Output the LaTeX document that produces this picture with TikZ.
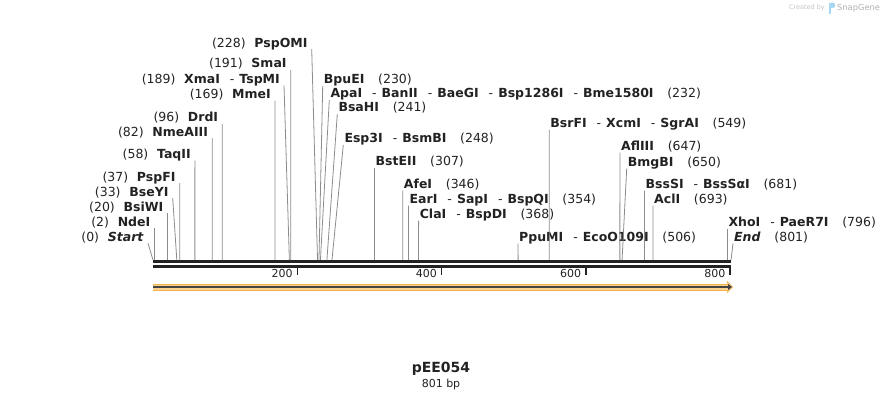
\documentclass[tikz,border=0pt]{standalone}
\usepackage{fontspec}
\setmainfont{DejaVu Sans}
\usetikzlibrary{arrows.meta}
\definecolor{seqdark}{HTML}{222222}
\definecolor{cutline}{HTML}{8C8C8C}
\definecolor{featfill}{HTML}{FBD38D}
\definecolor{featedge}{HTML}{F2B24C}
\definecolor{featline}{HTML}{444444}
\definecolor{credit}{HTML}{C4C4C4}
\definecolor{snapblue}{HTML}{A6D8F2}
\newcommand{\enzsep}{\hspace{0.8em}-\hspace{0.4em}}
\newcommand{\posgap}{\hspace{1.1em}}
\tikzset{
  site/.style={font=\fontsize{12.5}{14}\selectfont, text=seqdark, inner ysep=1pt, text height=9pt, text depth=1pt},
  leftsite/.style={site, anchor=base east, inner xsep=4pt},
  rightsite/.style={site, anchor=base west, inner xsep=1pt},
  cut/.style={cutline, line width=0.8pt},
  seq/.style={seqdark, line width=2.5pt},
}

\begin{document}
\begin{tikzpicture}[x=1pt,y=-1pt]
\useasboundingbox (0,0) rectangle (885,400);
\draw[seq] (153,261.5) -- (731,261.5);
\draw[seq] (153,266.5) -- (731,266.5);
\foreach \t in {200,400,600,800}
  \draw[seqdark, line width=1.6pt] ({153+\t*0.7216},267) -- ({153+\t*0.7216},275)
    node[pos=0.85, anchor=east, inner xsep=4pt, inner ysep=1pt, font=\fontsize{11}{13}\selectfont, text=seqdark] (tick\t) {\t};

\foreach \nm/\x/\y/\s/\txt in {
  Start/148/241/0/{(0)\hspace{0.7em}\textbf{\textit{Start}}},
  NdeI/154.5/226/2/{(2)\hspace{0.7em}\textbf{NdeI}},
  BsiWI/167.5/211/20/{(20)\hspace{0.7em}\textbf{BsiWI}},
  BseYI/172.7/196/33/{(33)\hspace{0.7em}\textbf{BseYI}},
  PspFI/179.7/181/37/{(37)\hspace{0.7em}\textbf{PspFI}},
  TaqII/194.9/158.3/58/{(58)\hspace{0.7em}\textbf{TaqII}},
  NmeAIII/212.2/136/82/{(82)\hspace{0.7em}\textbf{NmeAIII}},
  DrdI/222.3/121.6/96/{(96)\hspace{0.7em}\textbf{DrdI}},
  MmeI/275/98.3/169/{(169)\hspace{0.7em}\textbf{MmeI}},
  XmaI/284/83.3/189/{(189)\hspace{0.7em}\textbf{XmaI}\enzsep\textbf{TspMI}},
  SmaI/290.8/67.6/191/{(191)\hspace{0.7em}\textbf{SmaI}},
  PspOMI/311.7/47/228/{(228)\hspace{0.7em}\textbf{PspOMI}}}
{
  \coordinate (s\nm) at ({153+\s*0.7216},260);
  \node[leftsite] (\nm) at (\x,\y) {\txt};
  \draw[cut] (\nm.south east) -- (s\nm);
}

\foreach \nm/\x/\y/\s/\txt in {
  BpuEI/322.7/83.6/230/{\textbf{BpuEI}\posgap(230)},
  ApaI/329.3/97.8/232/{\textbf{ApaI}\enzsep\textbf{BanII}\enzsep\textbf{BaeGI}\enzsep\textbf{Bsp1286I}\enzsep\textbf{Bme1580I}\posgap(232)},
  BsaHI/337.3/111.8/241/{\textbf{BsaHI}\posgap(241)},
  Esp3I/343.3/142.8/248/{\textbf{Esp3I}\enzsep\textbf{BsmBI}\posgap(248)},
  BstEII/374.5/165.8/307/{\textbf{BstEII}\posgap(307)},
  AfeI/402.7/188.3/346/{\textbf{AfeI}\posgap(346)},
  EarI/408.5/203.3/354/{\textbf{EarI}\enzsep\textbf{SapI}\enzsep\textbf{BspQI}\posgap(354)},
  ClaI/418.6/218.3/368/{\textbf{ClaI}\enzsep\textbf{BspDI}\posgap(368)},
  PpuMI/518/241.3/506/{\textbf{PpuMI}\enzsep\textbf{EcoO109I}\posgap(506)},
  BsrFI/549.2/127.3/549/{\textbf{BsrFI}\enzsep\textbf{XcmI}\enzsep\textbf{SgrAI}\posgap(549)},
  AflIII/619.9/150.3/647/{\textbf{AflIII}\posgap(647)},
  BmgBI/626.7/166.3/650/{\textbf{BmgBI}\posgap(650)},
  BssSI/644.4/188.3/681/{\textbf{BssSI}\enzsep\textbf{BssSαI}\posgap(681)},
  AclI/653/203.3/693/{\textbf{AclI}\posgap(693)},
  XhoI/727.4/226.8/796/{\textbf{XhoI}\enzsep\textbf{PaeR7I}\posgap(796)},
  End/733/241.3/801/{\textbf{\textit{End}}\posgap(801)}}
{
  \coordinate (s\nm) at ({153+\s*0.7216},260);
  \node[rightsite] (\nm) at (\x,\y) {\txt};
  \draw[cut] (\nm.south west) -- (s\nm);
}

\coordinate (fstart) at (153,287);
\coordinate (fend) at (733,287);
\draw[featedge, line width=7pt, -{Triangle[length=6pt,width=12pt]}] (fstart) -- (fend);
\draw[featfill, line width=5pt, shorten >=1pt, -{Triangle[length=4.5pt,width=9pt]}] (fstart) -- (fend);
\draw[featline, line width=2pt, -{Triangle[length=4pt,width=6pt]}] (fstart) -- ([xshift=-1pt]fend);

\node[font=\bfseries\fontsize{14}{16}\selectfont, text=seqdark] (title) at (441,369) {pEE054};
\node[font=\fontsize{11}{13}\selectfont, text=seqdark] (length) at (441,384) {801 bp};

\node[anchor=east, font=\fontsize{6.5}{8}\selectfont, text=credit, inner sep=0pt] (created) at (825,8) {Created by};
\fill[snapblue] (829,2.5) rectangle (831,13.5);
\fill[snapblue] (831,2.5) -- (832.5,2.5) arc[start angle=90, end angle=-90, radius=2.8pt] -- (831,8.1) -- cycle;
\node[anchor=west, font=\fontsize{8.3}{10}\selectfont, text=credit!90!black, inner sep=0pt] (snapgene) at (837,8) {SnapGene};
\end{tikzpicture}
\end{document}
